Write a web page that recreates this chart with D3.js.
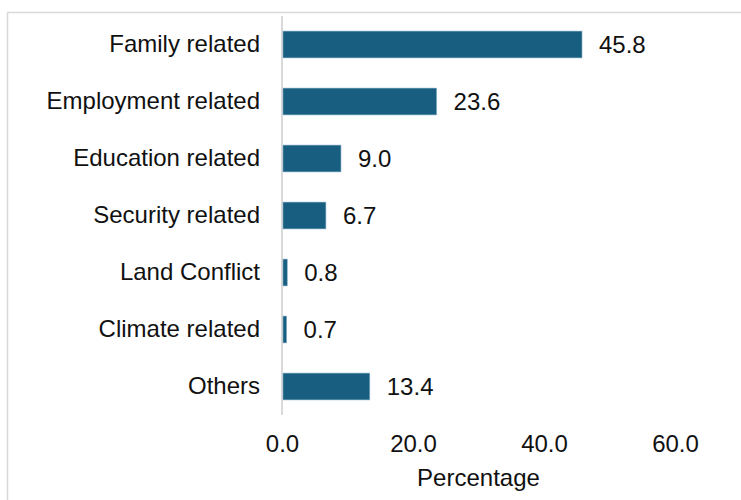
<!DOCTYPE html>
<html><head><meta charset="utf-8">
<script src="https://cdn.jsdelivr.net/npm/d3@7"></script>
<style>body{margin:0;background:#fff}svg{display:block}text{font-family:"Liberation Sans",Arial,sans-serif;fill:#111}</style>
</head><body><svg id="c" width="741" height="500"></svg>
<script>
const categories = ["Family related","Employment related","Education related","Security related","Land Conflict","Climate related","Others"];
const values = [45.8,23.6,9.0,6.7,0.8,0.7,13.4];
const xTicks = [0,20,40,60];
const xTitle = "Percentage";

const svg = d3.select("#c");
svg.append("rect").attr("x",7.5).attr("y",12.5).attr("width",760).attr("height",520)
  .attr("fill","none").attr("stroke","#d9d9d9").attr("stroke-width",1.5);

const x = d3.scaleLinear().domain([0,60]).range([282,675]);
const y = d3.scaleBand().domain(categories).range([16,415]).paddingInner(0.53).paddingOuter(0.265);

svg.append("line").attr("x1",282).attr("x2",282).attr("y1",16).attr("y2",415)
  .attr("stroke","#d9d9d9").attr("stroke-width",2);

svg.selectAll("rect.bar").data(values).enter().append("rect").attr("class","bar")
  .attr("x",x(0)+1).attr("y",(d,i)=>y(categories[i]))
  .attr("width",d=>x(d)-x(0)-1).attr("height",y.bandwidth())
  .attr("fill","#175e81").attr("stroke","#7fa8c2").attr("stroke-width",0.6);

svg.selectAll("text.val").data(values).enter().append("text").attr("class","val")
  .attr("x",d=>x(d)+17).attr("y",(d,i)=>y(categories[i])+y.bandwidth()/2)
  .attr("dy","0.35em").attr("font-size",24).text(d=>d.toFixed(1));

const yAxis = svg.append("g").attr("transform","translate(282,0)")
  .call(d3.axisLeft(y).tickSize(0).tickPadding(22));
yAxis.select(".domain").remove();
yAxis.selectAll("text").attr("font-size",24).attr("font-family",null).style("fill","#111");

const xAxis = svg.append("g").attr("transform","translate(0,415)")
  .call(d3.axisBottom(x).tickValues(xTicks).tickSize(0).tickPadding(20).tickFormat(d3.format(".1f")));
xAxis.select(".domain").remove();
xAxis.selectAll("text").attr("font-size",24).attr("font-family",null).style("fill","#111");

svg.append("text").attr("x",(x(0)+x(60))/2).attr("y",486).attr("text-anchor","middle")
  .attr("font-size",24).text(xTitle);
</script></body></html>
